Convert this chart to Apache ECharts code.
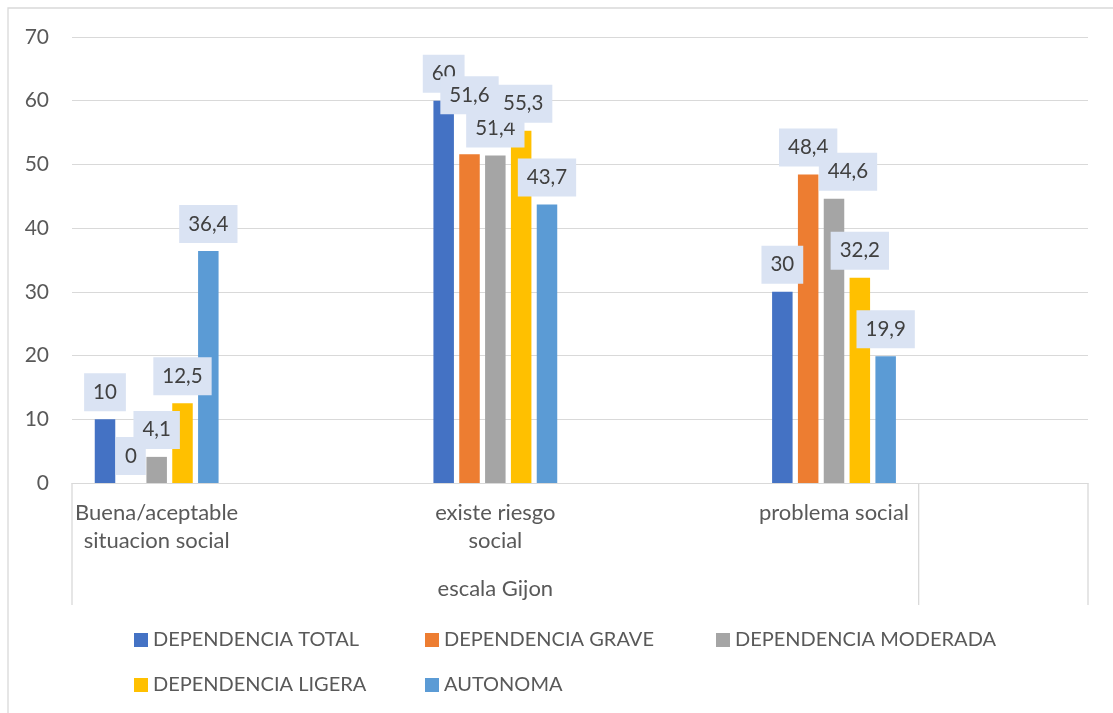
<!DOCTYPE html>
<html>
<head>
<meta charset="utf-8">
<script src="https://cdn.jsdelivr.net/npm/echarts@6/dist/echarts.min.js"></script>
<style>
html,body{margin:0;padding:0;background:#fff;}
#chart{width:1113px;height:713px;}
</style>
</head>
<body>
<div id="chart"></div>
<script>
// ---- data ----
const categories = ['Buena/aceptable\nsituacion social', '', 'existe riesgo\nsocial', '', 'problema social', ''];
const groupLabel = 'escala Gijon';
const seriesNames = ['DEPENDENCIA TOTAL', 'DEPENDENCIA GRAVE', 'DEPENDENCIA MODERADA', 'DEPENDENCIA LIGERA', 'AUTONOMA'];
const dependenciaTotal    = [10,   null, 60,   null, 30,   null];
const dependenciaGrave    = [0,    null, 51.6, null, 48.4, null];
const dependenciaModerada = [4.1,  null, 51.4, null, 44.6, null];
const dependenciaLigera   = [12.5, null, 55.3, null, 32.2, null];
const autonoma            = [36.4, null, 43.7, null, 19.9, null];
const yTicks = [0, 10, 20, 30, 40, 50, 60, 70];

// ---- style ----
const colors = ['#4472C4', '#ED7D31', '#A5A5A5', '#FFC000', '#5B9BD5'];
const FONT = 'Lato';
const values = [dependenciaTotal, dependenciaGrave, dependenciaModerada, dependenciaLigera, autonoma];
// manual label nudges (seriesIndex -> dataIndex -> [dx, dy])
const labelNudges = { 1: { 2: [0, -32] }, 2: { 4: [14, 0] }, 3: { 2: [2, 0] } };

const chart = echarts.init(document.getElementById('chart'), null, { renderer: 'canvas' });

const series = seriesNames.map((name, i) => ({
  name: name,
  type: 'bar',
  data: values[i],
  barWidth: 20.5,
  barGap: '26%',
  itemStyle: { color: colors[i] },
  label: {
    show: true,
    position: 'top',
    distance: 8,
    fontFamily: FONT,
    fontSize: 20.5,
    lineHeight: 20,
    color: '#404040',
    backgroundColor: '#DAE3F3',
    padding: [9, 9, 9, 9],
    formatter: p => (p.value === null || p.value === undefined) ? '' : String(p.value).replace('.', ',')
  },
  labelLayout: function (params) {
    const n = labelNudges[params.seriesIndex] && labelNudges[params.seriesIndex][params.dataIndex];
    return n ? { dx: n[0], dy: n[1] } : {};
  }
}));

const legendPos = [
  { left: 134, top: 630 }, { left: 425, top: 630 }, { left: 716, top: 630 },
  { left: 134, top: 675 }, { left: 425, top: 675 }
];
const legends = seriesNames.map((name, i) => ({
  data: [name],
  left: legendPos[i].left,
  top: legendPos[i].top,
  orient: 'horizontal',
  icon: 'rect',
  itemWidth: 14,
  itemHeight: 14,
  padding: 0,
  selectedMode: false,
  textStyle: { fontFamily: FONT, fontSize: 20, color: '#595959', lineHeight: 20 }
}));

chart.setOption({
  animation: false,
  backgroundColor: '#ffffff',
  grid: { left: 72, right: 25, top: 37, bottom: 230 },
  legend: legends,
  xAxis: {
    type: 'category',
    data: categories,
    axisLine: { show: true, lineStyle: { color: '#D9D9D9', width: 1 } },
    axisTick: { show: false },
    axisLabel: { interval: 0, fontFamily: FONT, fontSize: 22, lineHeight: 28, color: '#595959', margin: 16 }
  },
  yAxis: {
    type: 'value',
    min: yTicks[0],
    max: yTicks[yTicks.length - 1],
    interval: yTicks[1] - yTicks[0],
    axisLine: { show: false },
    axisTick: { show: false },
    axisLabel: { fontFamily: FONT, fontSize: 21, color: '#595959', margin: 23 },
    splitLine: { lineStyle: { color: '#D9D9D9', width: 1 } }
  },
  series: series
});

// multi-level category decoration computed from the axis scale
const c0 = chart.convertToPixel({ xAxisIndex: 0 }, 0);
const c1 = chart.convertToPixel({ xAxisIndex: 0 }, 1);
const cLast = chart.convertToPixel({ xAxisIndex: 0 }, categories.length - 1);
const w = c1 - c0;
const yBase = chart.convertToPixel({ yAxisIndex: 0 }, 0);
const xStart = c0 - w / 2;
const xGroupEnd = cLast - w / 2;
const xEnd = cLast + w / 2;
const tickLen = 122;
const lineStyle = { stroke: '#D9D9D9', lineWidth: 1.3 };
chart.setOption({
  graphic: [
    { type: 'rect', silent: true, z: -1, shape: { x: 8, y: 8, width: 1200, height: 800 }, style: { fill: null, stroke: '#D9D9D9', lineWidth: 1.3 } },
    { type: 'line', silent: true, shape: { x1: xStart, y1: yBase, x2: xStart, y2: yBase + tickLen }, style: lineStyle },
    { type: 'line', silent: true, shape: { x1: xGroupEnd, y1: yBase, x2: xGroupEnd, y2: yBase + tickLen }, style: lineStyle },
    { type: 'line', silent: true, shape: { x1: xEnd, y1: yBase, x2: xEnd, y2: yBase + tickLen }, style: lineStyle },
    { type: 'text', silent: true, x: (xStart + xGroupEnd) / 2, y: yBase + 106,
      style: { text: groupLabel, fontFamily: FONT, fontSize: 22, fill: '#595959', align: 'center', verticalAlign: 'middle' } }
  ]
});
</script>
</body>
</html>
